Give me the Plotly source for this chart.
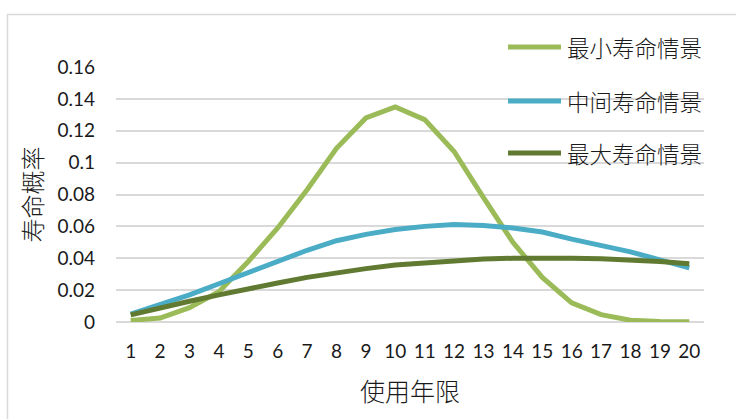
import plotly.graph_objects as go

years = list(range(1, 21))
series_names = ["最小寿命情景", "中间寿命情景", "最大寿命情景"]
min_life = [0.001, 0.0025, 0.009, 0.019, 0.038, 0.059, 0.083, 0.109, 0.128, 0.135,
            0.127, 0.107, 0.078, 0.050, 0.028, 0.012, 0.0046, 0.0011, 0.0003, 0.0001]
mid_life = [0.005, 0.011, 0.017, 0.024, 0.031, 0.038, 0.045, 0.051, 0.055, 0.058,
            0.060, 0.0612, 0.0605, 0.059, 0.0565, 0.052, 0.048, 0.044, 0.039, 0.034]
max_life = [0.0045, 0.009, 0.013, 0.017, 0.021, 0.0245, 0.028, 0.031, 0.0335, 0.0357,
            0.037, 0.0385, 0.0395, 0.040, 0.0402, 0.040, 0.0397, 0.039, 0.038, 0.0365]
y_ticks = [0, 0.02, 0.04, 0.06, 0.08, 0.1, 0.12, 0.14, 0.16]
y_tick_labels = ["0", "0.02", "0.04", "0.06", "0.08", "0.1", "0.12", "0.14", "0.16"]
colors = ["#9BBB59", "#4BACC6", "#617A31"]
x_title = "使用年限"
y_title = "寿命概率"

W, H = 736, 419
ML, MR, MT, MB = 116, 32, 67, 97
PW, PH = W - ML - MR, H - MT - MB


def px(x):
    return (x - ML) / PW


def py(y):
    return (H - MB - y) / PH


fig = go.Figure()
for name, vals, c in zip(series_names, [min_life, mid_life, max_life], colors):
    fig.add_trace(go.Scatter(x=years, y=vals, mode="lines", name=name,
                             line=dict(color=c, width=5), showlegend=False))

tick_font = dict(family="Lato, Open Sans, sans-serif", size=19, color="#1a1a1a")
cjk = "Noto Sans CJK SC, sans-serif"

shapes = [
    dict(type="rect", xref="paper", yref="paper", x0=px(7.5), x1=px(760), y0=py(14.5), y1=py(440),
         line=dict(color="#D9D9D9", width=1.5), fillcolor="rgba(0,0,0,0)", layer="below"),
]
annotations = [
    dict(text=x_title, xref="paper", yref="paper", x=0.5, y=py(390), showarrow=False,
         xanchor="center", yanchor="middle",
         font=dict(family=cjk, size=25, color="#1a1a1a", weight=300)),
    dict(text=y_title, xref="paper", yref="paper", x=px(31), y=0.5, showarrow=False,
         textangle=-90, xanchor="center", yanchor="middle",
         font=dict(family=cjk, size=24, color="#1a1a1a", weight=300)),
]
legend_y = [47, 101, 153]
for name, c, ly in zip(series_names, colors, legend_y):
    shapes.append(dict(type="line", xref="paper", yref="paper", x0=px(508), x1=px(561),
                       y0=py(ly), y1=py(ly), line=dict(color=c, width=5)))
    annotations.append(dict(text=name, xref="paper", yref="paper", x=px(565), y=py(ly),
                            showarrow=False, xanchor="left", yanchor="middle",
                            font=dict(family=cjk, size=22.5, color="#1a1a1a", weight=300)))

fig.update_layout(
    width=W, height=H,
    margin=dict(l=ML, r=MR, t=MT, b=MB),
    paper_bgcolor="white", plot_bgcolor="white",
    shapes=shapes, annotations=annotations,
    xaxis=dict(range=[0.5, 20.5], tickvals=years, ticktext=[str(v) for v in years],
               showgrid=False, zeroline=False, showline=False, ticks="",
               ticklabelstandoff=16, tickfont=tick_font),
    yaxis=dict(range=[0, 0.16], tickvals=y_ticks, ticktext=y_tick_labels,
               showgrid=True, gridcolor="#D9D9D9", gridwidth=1.5,
               zeroline=True, zerolinecolor="#D9D9D9", zerolinewidth=2,
               showline=False, ticks="", ticklabelstandoff=20, tickfont=tick_font),
)

fig.write_html("out.html")
